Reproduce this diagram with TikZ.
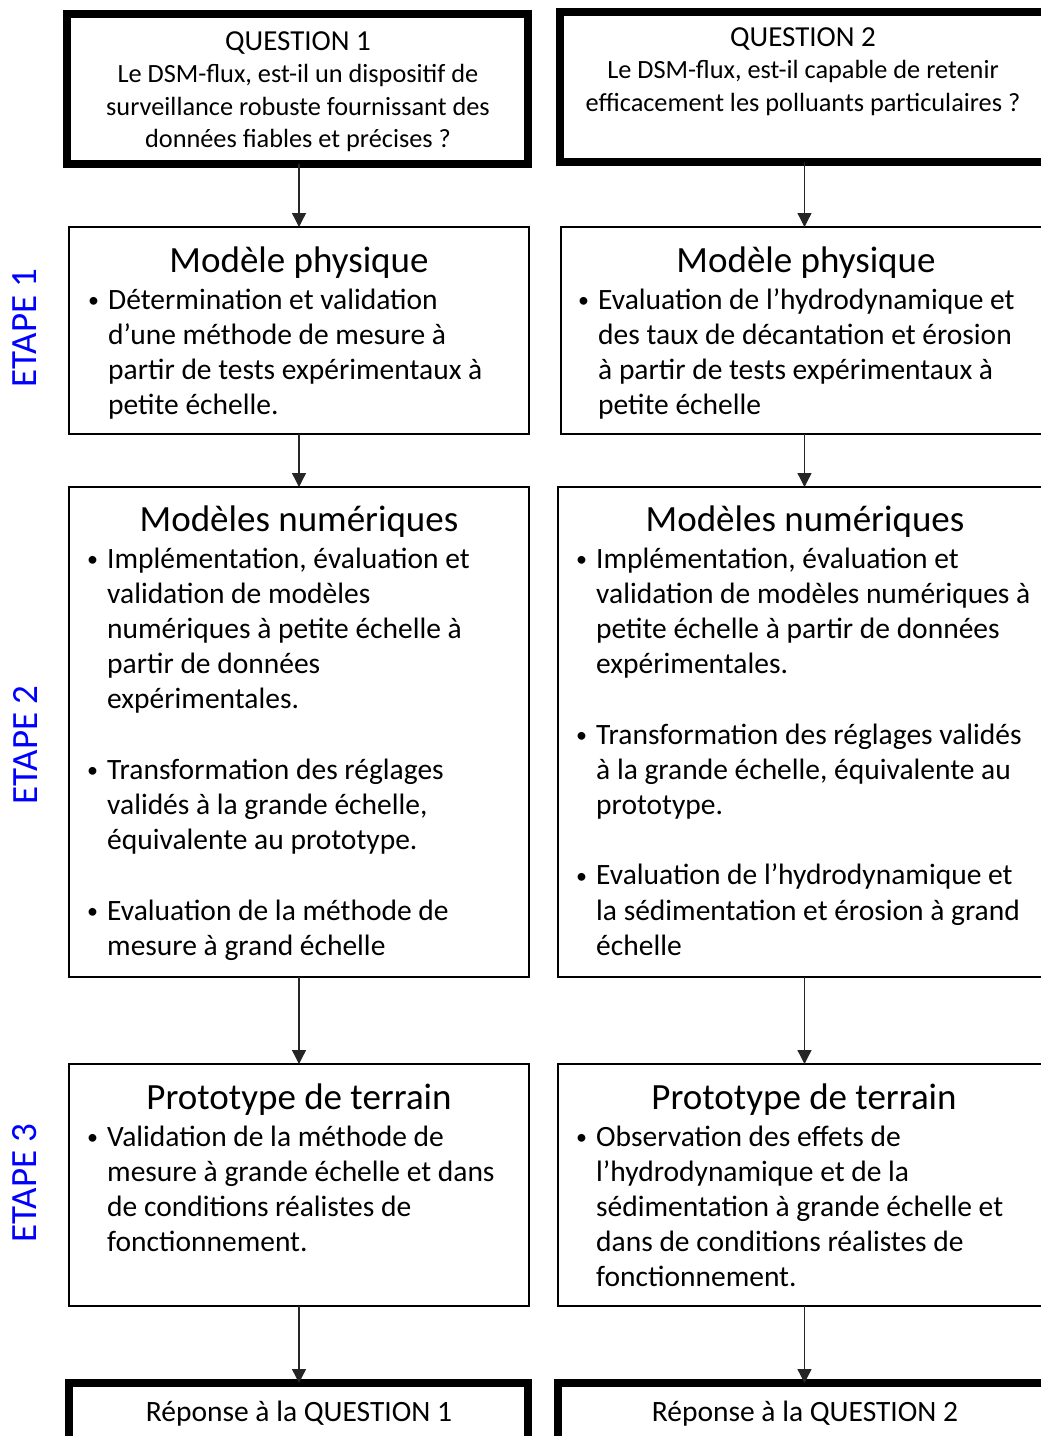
\documentclass[tikz,border=0pt]{standalone}
\usepackage{fontspec}
\setmainfont{Carlito}
\usetikzlibrary{arrows.meta}
\newcommand{\bl}{\makebox[20pt][l]{\raisebox{1.5pt}{\fontsize{22}{22}\selectfont\textbullet}}}
\definecolor{etapeblue}{RGB}{0,0,255}
\begin{document}
\begin{tikzpicture}[x=1pt,y=-1pt,
  thinbox/.style={draw, line width=2pt, inner sep=0pt, outer sep=0pt, anchor=north west},
  thickbox/.style={draw, line width=8pt, inner sep=0pt, outer sep=0pt, anchor=north west},
  title/.style={inner sep=0pt, anchor=base, font=\fontsize{37}{44}\selectfont},
  qtext/.style={inner sep=0pt, anchor=base, font=\fontsize{26.3}{32.5}\selectfont},
  body/.style={inner sep=0pt, anchor=base west, font=\fontsize{29.5}{35.2}\selectfont},
  etape/.style={inner sep=0pt, rotate=90, text=etapeblue, font=\fontsize{37}{44}\selectfont},
  arr/.style={draw=black!85, line width=1.3pt, -{Triangle[width=14pt,length=14pt]}}
]
\useasboundingbox (0,0) rectangle (1041,1436);
\clip (0,0) rectangle (1041,1436);

% boxes
\node[thickbox, minimum width=461pt, minimum height=150.5pt] (q1) at (67,13.5) {};
\node[thickbox, minimum width=500pt, minimum height=150.5pt] (q2) at (559.5,11.5) {};
\node[thinbox, minimum width=460pt, minimum height=207pt] (a1) at (69,227) {};
\node[thinbox, minimum width=490pt, minimum height=207pt] (a2) at (561,227) {};
\node[thinbox, minimum width=460pt, minimum height=490pt] (b1) at (69,487) {};
\node[thinbox, minimum width=493pt, minimum height=490pt] (b2) at (558,487) {};
\node[thinbox, minimum width=460pt, minimum height=242pt] (c1) at (69,1064) {};
\node[thinbox, minimum width=493pt, minimum height=242pt] (c2) at (558,1064) {};
\node[thickbox, minimum width=459pt, minimum height=100pt] (d1) at (69,1383) {};
\node[thickbox, minimum width=500pt, minimum height=100pt] (d2) at (558,1383) {};

% arrows
\draw[arr] (a1.north |- q1.south) -- (a1.north);
\draw[arr] (a1.south) -- (b1.north);
\draw[arr] (b1.south) -- (c1.north);
\draw[arr] (c1.south) -- (d1.north -| c1.south);
\draw[arr] (b2.north |- q2.south) -- (b2.north |- a2.north);
\draw[arr] (b2.north |- a2.south) -- (b2.north);
\draw[arr] (b2.south) -- (c2.north);
\draw[arr] (c2.south) -- (d2.north -| c2.south);

% etape labels
\node[etape] (e1) at (25,328) {ETAPE 1};
\node[etape] (e2) at (25,745) {ETAPE 2};
\node[etape] (e3) at (25,1183) {ETAPE 3};

% questions
\node[qtext] (q1t) at (298,50) {\begin{tabular}[t]{@{}c@{}}{\fontsize{29}{32.5}\selectfont QUESTION 1}\\Le DSM-flux, est-il un dispositif de\\surveillance robuste fournissant des\\données fiables et précises ?\end{tabular}};
\node[qtext] (q2t) at (803,46) {\begin{tabular}[t]{@{}c@{}}{\fontsize{29}{32.5}\selectfont QUESTION 2}\\Le DSM-flux, est-il capable de retenir\\efficacement les polluants particulaires ?\end{tabular}};

% titles
\node[title] (a1h) at (299,272) {Modèle physique};
\node[title] (a2h) at (806,272) {Modèle physique};
\node[title] (b1h) at (299,531) {Modèles numériques};
\node[title] (b2h) at (805,531) {Modèles numériques};
\node[title] (c1h) at (299,1109) {Prototype de terrain};
\node[title] (c2h) at (804,1109) {Prototype de terrain};

% bodies
\node[body] (a1b) at (88,309) {\begin{tabular}[t]{@{}l@{}l@{}}
\bl & Détermination et validation\\
 & d’une méthode de mesure à\\
 & partir de tests expérimentaux à\\
 & petite échelle.
\end{tabular}};
\node[body] (a2b) at (578,309) {\begin{tabular}[t]{@{}l@{}l@{}}
\bl & Evaluation de l’hydrodynamique et\\
 & des taux de décantation et érosion\\
 & à partir de tests expérimentaux à\\
 & petite échelle
\end{tabular}};
\node[body] (b1b) at (87,568) {\begin{tabular}[t]{@{}l@{}l@{}}
\bl & Implémentation, évaluation et\\
 & validation de modèles\\
 & numériques à petite échelle à\\
 & partir de données\\
 & expérimentales.\\
 & \\
\bl & Transformation des réglages\\
 & validés à la grande échelle,\\
 & équivalente au prototype.\\
 & \\
\bl & Evaluation de la méthode de\\
 & mesure à grand échelle
\end{tabular}};
\node[body] (b2b) at (576,568) {\begin{tabular}[t]{@{}l@{}l@{}}
\bl & Implémentation, évaluation et\\
 & validation de modèles numériques à\\
 & petite échelle à partir de données\\
 & expérimentales.\\
 & \\
\bl & Transformation des réglages validés\\
 & à la grande échelle, équivalente au\\
 & prototype.\\
 & \\
\bl & Evaluation de l’hydrodynamique et\\
 & la sédimentation et érosion à grand\\
 & échelle
\end{tabular}};
\node[body] (c1b) at (87,1146) {\begin{tabular}[t]{@{}l@{}l@{}}
\bl & Validation de la méthode de\\
 & mesure à grande échelle et dans\\
 & de conditions réalistes de\\
 & fonctionnement.
\end{tabular}};
\node[body] (c2b) at (576,1146) {\begin{tabular}[t]{@{}l@{}l@{}}
\bl & Observation des effets de\\
 & l’hydrodynamique et de la\\
 & sédimentation à grande échelle et\\
 & dans de conditions réalistes de\\
 & fonctionnement.
\end{tabular}};

% answers
\node[qtext, font=\fontsize{29.5}{35}\selectfont] (d1t) at (299,1421) {Réponse à la QUESTION 1};
\node[qtext, font=\fontsize{29.5}{35}\selectfont] (d2t) at (805,1421) {Réponse à la QUESTION 2};
\end{tikzpicture}
\end{document}
